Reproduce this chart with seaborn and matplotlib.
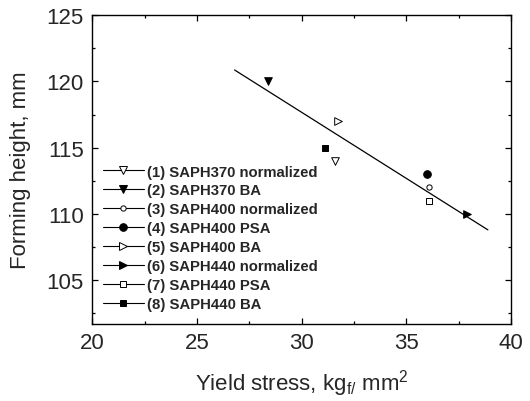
import matplotlib
matplotlib.use("Agg")
import matplotlib.pyplot as plt
import seaborn as sns
import pandas as pd
from matplotlib.lines import Line2D
from matplotlib.ticker import MultipleLocator

sns.set_theme(style="ticks")
plt.rcParams['font.family'] = ['Liberation Sans', 'DejaVu Sans']
plt.rcParams['mathtext.fontset'] = 'custom'
plt.rcParams['mathtext.rm'] = 'Liberation Sans'

labels = ["(1) SAPH370 normalized", "(2) SAPH370 BA", "(3) SAPH400 normalized",
          "(4) SAPH400 PSA", "(5) SAPH400 BA", "(6) SAPH440 normalized",
          "(7) SAPH440 PSA", "(8) SAPH440 BA"]
yield_stress = [31.6, 28.4, 36.1, 36.0, 31.75, 37.9, 36.1, 31.1]
forming_height = [114, 120, 112, 113, 117, 110, 111, 115]
markers = ['v', 'v', 'o', 'o', '>', '>', 's', 's']
filled = [False, True, False, True, False, True, False, True]
msizes = [5.5, 5.5, 3.8, 5.5, 5.5, 5.5, 4.5, 4.5]

fit_x = [26.8, 38.9]
fit_y = [120.86, 108.8]

fig = plt.figure(figsize=(5.30, 4.02), dpi=100)
ax = fig.add_axes([0.174, 0.1915, 0.79, 0.7685])

sns.lineplot(x=fit_x, y=fit_y, ax=ax, color='black', linewidth=0.9)

handles = []
for lab, xv, yv, m, f, ms in zip(labels, yield_stress, forming_height, markers, filled, msizes):
    df = pd.DataFrame({'x': [xv], 'y': [yv]})
    sns.scatterplot(data=df, x='x', y='y', ax=ax, marker=m, s=ms**2,
                    facecolor='black' if f else 'white', edgecolor='black',
                    linewidth=0.7, zorder=3)
    handles.append(Line2D([0], [0], color='black', linewidth=0.8, marker=m,
                          markersize=ms, markerfacecolor='black' if f else 'white',
                          markeredgecolor='black', markeredgewidth=0.7, label=lab))

ax.set_xlim(20, 40)
ax.set_ylim(101.7, 125)
ax.xaxis.set_major_locator(MultipleLocator(5))
ax.xaxis.set_minor_locator(MultipleLocator(2.5))
ax.yaxis.set_major_locator(MultipleLocator(5))
ax.yaxis.set_minor_locator(MultipleLocator(2.5))
ax.tick_params(which='both', direction='in', top=True, right=True, color='black',
               labelsize=16, pad=6)
ax.tick_params(which='major', length=4, width=0.9)
ax.tick_params(which='minor', length=2, width=0.9)
for s in ax.spines.values():
    s.set_color('black')
    s.set_linewidth(1.0)

ax.set_xlabel(r'Yield stress, kg$_{\mathregular{f/}}$ mm$^{\mathregular{2}}$', fontsize=16, labelpad=10)
ax.set_ylabel('Forming height, mm', fontsize=16, labelpad=11)

leg = ax.legend(handles=handles, loc='upper left', bbox_to_anchor=(0.0, 0.55),
                frameon=False, prop={'weight': 'bold', 'size': 10.7},
                handlelength=2.8, handletextpad=0.2, labelspacing=0.33,
                borderaxespad=0.3)

fig.savefig('out.png', dpi=100)
